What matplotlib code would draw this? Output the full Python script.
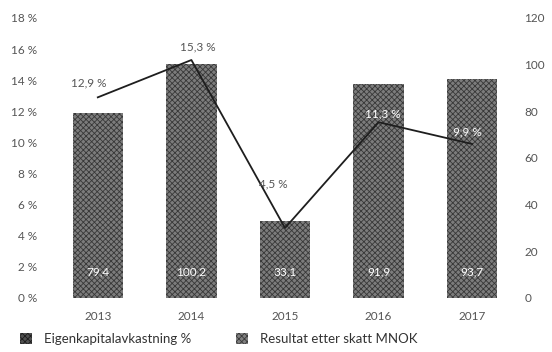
import matplotlib
matplotlib.use("Agg")
import matplotlib.pyplot as plt
from matplotlib.patches import Patch

years = ["2013", "2014", "2015", "2016", "2017"]
result_mnok = [79.4, 100.2, 33.1, 91.9, 93.7]
roe_pct = [12.9, 15.3, 4.5, 11.3, 9.9]
left_ticks = [0, 2, 4, 6, 8, 10, 12, 14, 16, 18]
right_ticks = [0, 20, 40, 60, 80, 100, 120]

plt.rcParams["font.family"] = ["Lato", "DejaVu Sans"]
plt.rcParams["hatch.linewidth"] = 0.6

text_col = "#555555"
bar_face = "#7c7c7c"
bar_hatch = "#383838"
line_col = "#1e1e1e"

fig = plt.figure(figsize=(5.52, 3.52), dpi=100)
ax_pct = fig.add_axes([51 / 552, 54 / 352, 468 / 552, 280 / 352])
ax_val = ax_pct.twinx()

x = list(range(len(years)))

# bars on the right (MNOK) axis
plt.rcParams["hatch.color"] = bar_hatch
ax_val.bar(x, result_mnok, width=0.54, color=bar_face,
           hatch="xxxxxx", edgecolor=bar_hatch, linewidth=0, zorder=1)
for xi, v in zip(x, result_mnok):
    ax_val.text(xi, 11, f"{v:.1f}".replace(".", ","), ha="center", va="center",
                color="white", fontsize=8.5, zorder=5)

ax_val.set_ylim(0, 120)
ax_val.set_yticks(right_ticks)
ax_val.set_yticklabels([str(t) for t in right_ticks])

# return on equity line on the left (%) axis, drawn above the bars
ax_pct.set_zorder(ax_val.get_zorder() + 1)
ax_pct.patch.set_visible(False)
ax_pct.plot(x, roe_pct, color=line_col, linewidth=1.3, zorder=3)

label_style = [
    (-0.1, 0.6, text_col),
    (0.07, 0.5, text_col),
    (-0.13, 2.5, text_col),
    (0.04, 0.2, "white"),
    (-0.05, 0.4, "white"),
]
for xi, v, (dx, dy, c) in zip(x, roe_pct, label_style):
    ax_pct.text(xi + dx, v + dy, f"{v:.1f} %".replace(".", ","), ha="center",
                va="bottom", color=c, fontsize=8.5, zorder=5)

ax_pct.set_ylim(0, 18)
ax_pct.set_yticks(left_ticks)
ax_pct.set_yticklabels([f"{t} %" for t in left_ticks])
ax_pct.set_xlim(-0.5, len(years) - 0.5)
ax_pct.set_xticks(x)
ax_pct.set_xticklabels(years)

for a in (ax_pct, ax_val):
    for s in a.spines.values():
        s.set_visible(False)
    a.tick_params(length=0, colors=text_col, labelsize=8.5)
ax_pct.tick_params(axis="y", pad=10)
ax_val.tick_params(axis="y", pad=4)
ax_pct.tick_params(axis="x", pad=9)

handles = [
    Patch(facecolor="#505050", hatch="xxxxxx", edgecolor="#1e1e1e", linewidth=0),
    Patch(facecolor="#808080", hatch="xxxxxx", edgecolor="#3a3a3a", linewidth=0),
]
fig.legend(handles, ["Eigenkapitalavkastning %", "Resultat etter skatt MNOK"],
           loc="lower left", bbox_to_anchor=(0.015, -0.015), ncol=2, frameon=False,
           fontsize=9.5, handlelength=0.9, handleheight=0.9, columnspacing=3.4,
           handletextpad=0.9, labelcolor="#333333")

fig.savefig("out.png", dpi=100)
